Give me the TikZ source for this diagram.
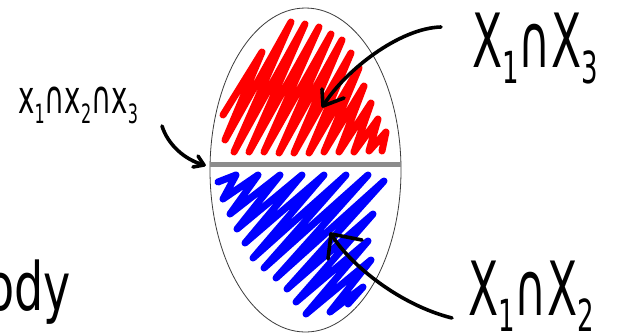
\documentclass[tikz,border=0pt]{standalone}
\usepackage{fontspec}
\usepackage{graphicx}
\newfontfamily\hand{DejaVu Sans}
% handwritten-style subscript: smaller digit sitting a little below the baseline
\newcommand\hsub[2]{\raisebox{-0.22em}{\fontsize{#1}{#1}\selectfont #2}}
\definecolor{divider}{RGB}{140,140,140}
\definecolor{rimline}{RGB}{60,60,60}
\begin{document}
\begin{tikzpicture}[x=1pt,y=-1pt,
  scribble/.style={line width=7pt,line join=round,line cap=round},
  redscr/.style={scribble,draw={rgb,255:red,255;green,0;blue,0}},
  bluescr/.style={scribble,draw={rgb,255:red,0;green,0;blue,255}},
  pointer/.style={draw=black,line width=3.6pt,line cap=round,line join=round},
  hlabel/.style={inner sep=0pt,font=\hand}]
\useasboundingbox (0,0) rectangle (618,333);
\fill[white] (0,0) rectangle (618,333);

% the set, drawn as a tall ellipse
\draw[line width=0.8pt,rimline] (305.5,170) ellipse [x radius=95.5pt,y radius=162pt];

% upper half: red shading, one zigzag stroke
\draw[redscr] (223,115) -- (262,52) -- (225,140) -- (291,22) -- (234,152)
  -- (305,24) -- (249,152) -- (319,27) -- (264,152) -- (331,34) -- (279,153)
  -- (342,40) -- (294,153) -- (351,53) -- (309,153) -- (359,68) -- (324,152)
  -- (364,86) -- (339,152) -- (371,103) -- (354,152) -- (378,119) -- (369,151)
  -- (386,132) -- (382,151);

% lower half: blue shading, one zigzag stroke
\draw[bluescr] (218,182) -- (236,175) -- (223,199) -- (258,175) -- (230,214)
  -- (280,175) -- (237,229) -- (302,175) -- (245,243) -- (324,175) -- (253,258)
  -- (346,175) -- (264,268) -- (368,175) -- (276,278) -- (384,181) -- (287,289)
  -- (373,214) -- (296,302) -- (368,241) -- (306,314) -- (371,260) -- (330,312)
  -- (363,287) -- (348,304);

% the dividing band
\draw[line width=5pt,divider] (210,164.5) -- (401,164.5);

% labels
\node[hlabel,anchor=base west] (lab13) at (472,67)
  {\scalebox{1}[1.7]{\fontsize{44}{44}\selectfont X\hsub{26}{1}∩X\hsub{26}{3}}};
\node[hlabel,anchor=base west] (lab12) at (468,315)
  {\scalebox{1}[1.7]{\fontsize{44}{44}\selectfont X\hsub{26}{1}∩X\hsub{26}{2}}};
\node[hlabel,anchor=base west] (lab123) at (18,113)
  {\scalebox{1}[1.66]{\fontsize{27.6}{27.6}\selectfont x\hsub{16}{1}∩x\hsub{16}{2}∩x\hsub{16}{3}}};
\node[hlabel,anchor=base west] (body) at (-14,310)
  {\scalebox{1}[1.45]{\fontsize{46}{46}\selectfont ody}};

% arrow ends
\coordinate (s13) at (441,27);   \coordinate (t13) at (323,106);
\coordinate (h13a) at (322,89);  \coordinate (h13b) at (344,98);
\coordinate (s12) at (452,318);  \coordinate (t12) at (331,234);
\coordinate (h12a) at (328,259); \coordinate (h12b) at (362,240);
\coordinate (s123) at (162,126); \coordinate (t123) at (204,165);
\coordinate (h123a) at (193,167);\coordinate (h123b) at (198,156);

% arrows
\draw[pointer] (s13) .. controls (400,28) and (345,70) .. (t13);
\draw[pointer] (h13a) -- (t13) -- (h13b);
\draw[pointer] (s12) .. controls (400,305) and (350,265) .. (t12);
\draw[pointer] (h12a) -- (t12) -- (h12b);
\draw[pointer] (s123) .. controls (168,145) and (185,160) .. (t123);
\draw[pointer] (h123a) -- (t123) -- (h123b);
\end{tikzpicture}
\end{document}
